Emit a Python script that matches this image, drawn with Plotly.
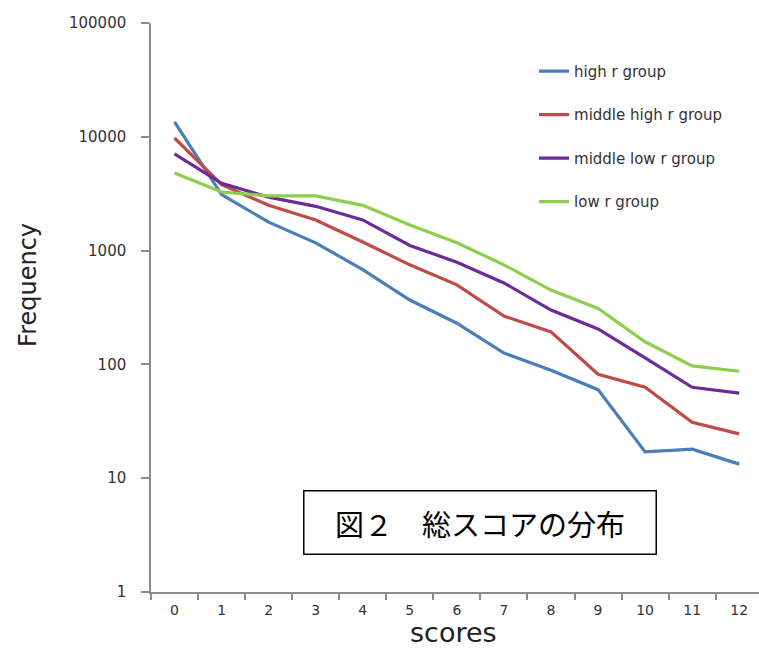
import plotly.graph_objects as go

scores = [str(i) for i in range(13)]
high_r = [13500, 3100, 1780, 1170, 680, 368, 230, 126, 89, 60, 17, 18, 13.3]
middle_high_r = [9760, 3800, 2500, 1860, 1190, 750, 500, 266, 193, 82, 63, 31, 24.5]
middle_low_r = [7070, 3900, 2950, 2450, 1860, 1110, 790, 520, 300, 205, 114, 63, 56]
low_r = [4800, 3270, 3030, 3030, 2500, 1680, 1170, 750, 450, 310, 158, 97, 87]

series_names = ["high r group", "middle high r group", "middle low r group", "low r group"]
series_values = [high_r, middle_high_r, middle_low_r, low_r]
colors = ["#4A7EBB", "#BE4B48", "#6B2C9B", "#8CCF4D"]

y_tickvals = [1, 10, 100, 1000, 10000, 100000]
y_ticktext = ["1", "10", "100", "1000", "10000", "100000"]

fig = go.Figure()
for i, (name, vals, c) in enumerate(zip(series_names, series_values, colors)):
    fig.add_trace(go.Scatter(
        x=scores, y=vals, name=name, mode="lines",
        line=dict(color=c, width=3.2),
        legendgroup=f"g{i}",
    ))

font_main = "DejaVu Sans, Arial, sans-serif"

fig.update_layout(
    width=759, height=652,
    margin=dict(l=151, r=0, t=23, b=60),
    paper_bgcolor="white", plot_bgcolor="white",
    showlegend=True,
    legend=dict(
        x=0.63, y=0.944, xanchor="left", yanchor="top",
        font=dict(family=font_main, size=15, color="#333333"),
        tracegroupgap=21, bgcolor="rgba(0,0,0,0)",
    ),
    xaxis=dict(
        type="category", range=[-0.5, 12.42],
        tickson="boundaries", ticks="outside", ticklen=6, tickcolor="#8c8c8c", tickwidth=1.5,
        showline=True, linecolor="#8c8c8c", linewidth=1.5,
        showgrid=False, zeroline=False,
        tickfont=dict(family=font_main, size=14, color="#333333"),
        ticklabelstandoff=4,
    ),
    yaxis=dict(
        type="log", range=[0, 5],
        tickvals=y_tickvals, ticktext=y_ticktext,
        ticks="outside", ticklen=8, tickcolor="#8c8c8c", tickwidth=1.5,
        showline=True, linecolor="#8c8c8c", linewidth=1.5,
        showgrid=False, zeroline=False,
        tickfont=dict(family=font_main, size=15, color="#333333"),
        ticklabelstandoff=12,
    ),
    annotations=[
        dict(text="Frequency", xref="paper", yref="paper", x=-0.202, y=0.54,
             textangle=-90, showarrow=False, xanchor="center", yanchor="middle",
             font=dict(family=font_main, size=24, color="#222222")),
        dict(text="scores", xref="paper", yref="paper", x=0.497, y=-0.102,
             showarrow=False, xanchor="center", yanchor="bottom",
             font=dict(family=font_main, size=27, color="#222222")),
        dict(text="図２　総スコアの分布", xref="paper", yref="paper", x=0.541, y=0.122,
             showarrow=False, xanchor="center", yanchor="middle",
             width=351, height=62, align="center", valign="middle",
             bordercolor="black", borderwidth=1.5, borderpad=0, bgcolor="white",
             font=dict(family="Noto Sans CJK JP", size=29, color="black")),
    ],
)

fig.write_html(
    "out.html",
    config={"displayModeBar": False},
    post_script="document.body.style.margin='0';document.body.style.overflow='hidden';",
)
